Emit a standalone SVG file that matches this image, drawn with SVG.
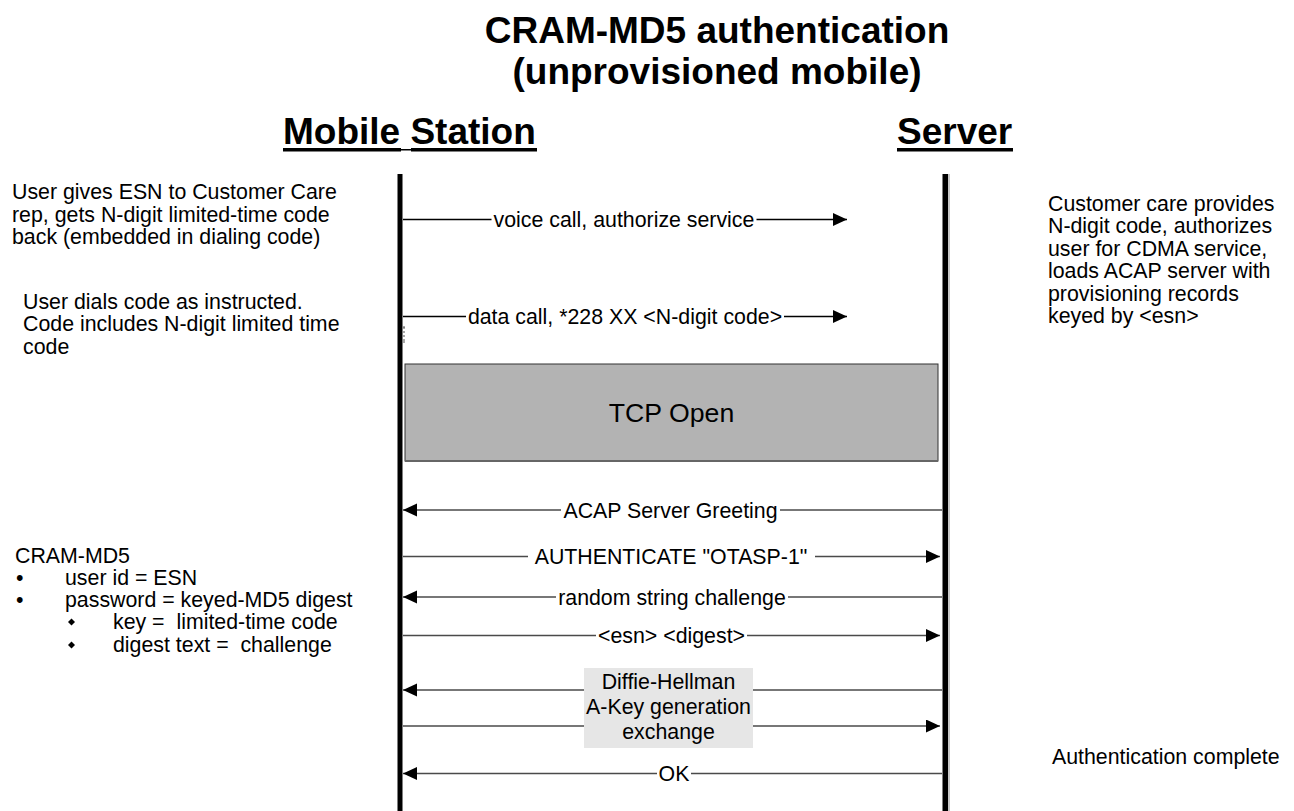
<svg xmlns="http://www.w3.org/2000/svg" width="1294" height="811" viewBox="0 0 1294 811">
<defs>
<style>
text{font-family:"Liberation Sans",Arial,Helvetica,sans-serif;fill:#000}
.title{font-size:37px;font-weight:bold;text-anchor:middle}
.hdr{font-size:37px;font-weight:bold}
.t{font-size:21.33px}
.c{font-size:21.33px;text-anchor:middle}
.m1{stroke:#000;stroke-width:1.3;fill:none}
.m2{stroke:#4a4a4a;stroke-width:1.5;fill:none}
</style>
<marker id="ah" markerUnits="userSpaceOnUse" markerWidth="15" markerHeight="14" refX="14" refY="6.5" orient="auto">
<path d="M0,0 L14,6.5 L0,13 z" fill="#000"/>
</marker>
</defs>
<rect width="1294" height="811" fill="#fff"/>

<g id="title">
<text class="title" x="717" y="43">CRAM-MD5 authentication</text>
<text class="title" x="717" y="84">(unprovisioned mobile)</text>
</g>

<g id="mobile-station">
<text class="hdr" x="283" y="144">Mobile Station</text>
<rect x="283" y="148" width="118" height="3.5" fill="#000"/>
<rect x="401" y="149" width="12" height="1.5" fill="#000"/>
<rect x="411" y="148" width="126" height="3.5" fill="#000"/>
<rect x="397.5" y="174" width="5" height="637" fill="#000"/>
<path d="M403,327 h3 M404,327 v15 M403,342 h3" stroke="#555" stroke-width="1" stroke-dasharray="2,2" fill="none"/>
</g>

<g id="server">
<text class="hdr" x="897" y="144">Server</text>
<rect x="897" y="148" width="116" height="3.5" fill="#000"/>
<rect x="948" y="174" width="2" height="637" fill="#c8c8c8"/>
<rect x="942.5" y="174" width="5.5" height="637" fill="#000"/>
</g>

<g id="note-left-1">
<text class="t" x="12" y="199">User gives ESN to Customer Care</text>
<text class="t" x="12" y="221.5">rep, gets N-digit limited-time code</text>
<text class="t" x="12" y="244">back (embedded in dialing code)</text>
</g>

<g id="note-left-2">
<text class="t" x="23" y="308.5">User dials code as instructed.</text>
<text class="t" x="23" y="331">Code includes N-digit limited time</text>
<text class="t" x="23" y="353.5">code</text>
</g>

<g id="note-left-3">
<text class="t" x="15" y="562.5">CRAM-MD5</text>
<text class="t" x="16" y="584.5">•</text><text class="t" x="65" y="584.5">user id = ESN</text>
<text class="t" x="16" y="606.5">•</text><text class="t" x="65" y="606.5">password = keyed-MD5 digest</text>
<path d="M71.5,618.5 l3.5,3.5 l-3.5,3.5 l-3.5,-3.5 z" fill="#000"/><text class="t" x="113" y="628.5">key =&#160; limited-time code</text>
<path d="M71.5,641.5 l3.5,3.5 l-3.5,3.5 l-3.5,-3.5 z" fill="#000"/><text class="t" x="113" y="651.5">digest text =&#160; challenge</text>
</g>

<g id="note-right-1">
<text class="t" x="1048" y="210.5">Customer care provides</text>
<text class="t" x="1048" y="233">N-digit code, authorizes</text>
<text class="t" x="1048" y="255.5">user for CDMA service,</text>
<text class="t" x="1048" y="278">loads ACAP server with</text>
<text class="t" x="1048" y="300.5">provisioning records</text>
<text class="t" x="1048" y="323">keyed by &lt;esn&gt;</text>
</g>

<g id="note-right-2">
<text class="t" x="1052" y="764">Authentication complete</text>
</g>

<g id="tcp-open">
<rect x="405" y="364" width="533" height="97" fill="#b3b3b3" stroke="#333" stroke-width="1"/>
<line x1="405" y1="461" x2="938" y2="461" stroke="#666" stroke-width="2"/>
<text x="671.5" y="421.5" style="font-size:26.67px;text-anchor:middle">TCP Open</text>
</g>

<g id="dh-label">
<rect x="584" y="668" width="169" height="80" fill="#e6e6e6"/>
<text class="c" x="668.5" y="689">Diffie-Hellman</text>
<text class="c" x="668.5" y="714">A-Key generation</text>
<text class="c" x="668.5" y="739">exchange</text>
</g>

<g id="connectors">
<line class="m1" x1="403" y1="219.5" x2="491.5" y2="219.5"/>
<line class="m1" x1="756.5" y1="219.5" x2="847" y2="219.5" marker-end="url(#ah)"/>
<text class="c" x="624" y="227">voice call, authorize service</text>

<line class="m1" x1="403" y1="316.5" x2="466" y2="316.5"/>
<line class="m1" x1="784" y1="316.5" x2="847" y2="316.5" marker-end="url(#ah)"/>
<text class="c" x="625" y="324">data call, *228 XX &lt;N-digit code&gt;</text>

<line class="m2" x1="561" y1="510" x2="403" y2="510" marker-end="url(#ah)"/>
<line class="m2" x1="780" y1="510" x2="942" y2="510"/>
<text class="c" x="670.5" y="517.5">ACAP Server Greeting</text>

<line class="m2" x1="403" y1="556.5" x2="528" y2="556.5"/>
<line class="m2" x1="815" y1="556.5" x2="940" y2="556.5" marker-end="url(#ah)"/>
<text class="c" x="671" y="564">AUTHENTICATE "OTASP-1"</text>

<line class="m2" x1="556" y1="597" x2="403" y2="597" marker-end="url(#ah)"/>
<line class="m2" x1="788" y1="597" x2="942" y2="597"/>
<text class="c" x="672" y="604.5">random string challenge</text>

<line class="m2" x1="403" y1="635.5" x2="596" y2="635.5"/>
<line class="m2" x1="747" y1="635.5" x2="940" y2="635.5" marker-end="url(#ah)"/>
<text class="c" x="671.5" y="643">&lt;esn&gt; &lt;digest&gt;</text>

<line class="m2" x1="584" y1="690" x2="403" y2="690" marker-end="url(#ah)"/>
<line class="m2" x1="753" y1="690" x2="942" y2="690"/>

<line class="m2" x1="403" y1="726" x2="584" y2="726"/>
<line class="m2" x1="753" y1="726" x2="940" y2="726" marker-end="url(#ah)"/>

<line class="m2" x1="657" y1="773.5" x2="403" y2="773.5" marker-end="url(#ah)"/>
<line class="m2" x1="691" y1="773.5" x2="942" y2="773.5"/>
<text class="c" x="674" y="781">OK</text>
</g>
</svg>
